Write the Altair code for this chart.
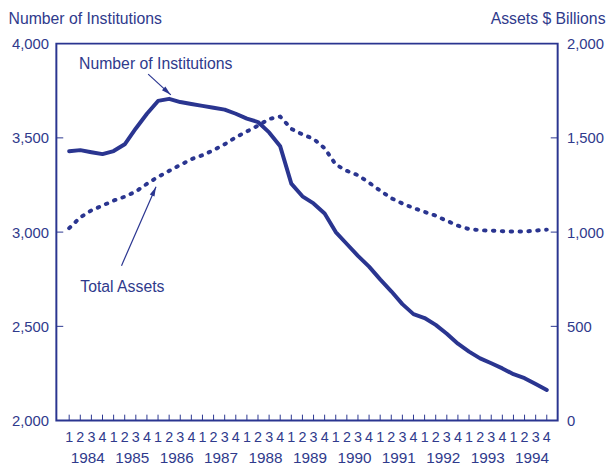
import altair as alt
import pandas as pd

# ---- data (quarterly, 1984 Q1 .. 1994 Q4) ----
years = ["1984", "1985", "1986", "1987", "1988", "1989", "1990", "1991", "1992", "1993", "1994"]
quarter_labels = ["1", "2", "3", "4"] * len(years)

institutions = [
    3429, 3435, 3424, 3414,
    3430, 3466, 3550, 3628,
    3696, 3707, 3690, 3680,
    3670, 3660, 3650, 3628,
    3602, 3584, 3529, 3455,
    3257, 3190, 3152, 3099,
    3000, 2937, 2874, 2817,
    2749, 2686, 2618, 2565,
    2544, 2508, 2461, 2408,
    2366, 2330, 2304, 2277,
    2246, 2225, 2194, 2162,
]

assets = [
    1021, 1078, 1115, 1141,
    1167, 1188, 1215, 1256,
    1293, 1325, 1356, 1387,
    1408, 1435, 1466, 1503,
    1534, 1565, 1600, 1613,
    1548, 1518, 1495, 1445,
    1358, 1325, 1302, 1262,
    1220, 1180, 1152, 1128,
    1107, 1087, 1060, 1034,
    1016, 1010, 1008, 1005,
    1003, 1003, 1008, 1013,
]

left_ticks = [2500, 3000, 3500]
right_ticks = [500, 1000, 1500]

# annotation texts and arrows (in data coordinates of the left axis)
ann_text = ["Number of Institutions", "Total Assets"]
ann_text_x = [0.89, 1.0]
ann_text_y = [3890, 2707]
arrow_x0 = [7.11, 4.71]
arrow_y0 = [3838, 2822]
arrow_x1 = [9.15, 7.82]
arrow_y1 = [3728, 3241]
head_x = [8.82, 7.64]
head_y = [3746, 3217]
head_angle = [132, 24]

n = len(institutions)
df = pd.DataFrame({
    "idx": list(range(n)),
    "q": quarter_labels,
    "inst": institutions,
    "assets": assets,
})
df_years = pd.DataFrame({"idx": [1.5 + 4 * i for i in range(len(years))], "year": years})
df_lt = pd.DataFrame({"v": left_ticks})
df_rt = pd.DataFrame({"v": right_ticks})
df_text = pd.DataFrame({"t": ann_text, "x": ann_text_x, "y": ann_text_y})
df_arrow = pd.DataFrame({"x0": arrow_x0, "y0": arrow_y0, "x1": arrow_x1, "y1": arrow_y1,
                         "hx": head_x, "hy": head_y, "ang": head_angle})

BLUE = "#2a3590"
TXT = "#2f3a8c"
FONT = "Liberation Sans"
W, H = 508, 382

xscale = alt.Scale(domain=[-1.155, 43.98], nice=False, zero=False)
yL = alt.Scale(domain=[2000, 4000], nice=False, zero=False)
yR = alt.Scale(domain=[0, 2000], nice=False, zero=False)

inst_line = alt.Chart(df).mark_line(
    color=BLUE, strokeWidth=4, strokeJoin="round", strokeCap="round"
).encode(
    x=alt.X("idx:Q", scale=xscale, axis=None),
    y=alt.Y("inst:Q", scale=yL, axis=alt.Axis(
        orient="left", values=[2000, 2500, 3000, 3500, 4000], format=",d",
        ticks=False, domain=False, grid=False,
        labelFontSize=15, labelColor=TXT, labelFont=FONT, labelPadding=8,
        title="Number of Institutions", titleAngle=0, titleX=-49, titleY=-25,
        titleAlign="left", titleBaseline="middle", titleFont=FONT,
        titleFontSize=16, titleFontWeight="normal", titleColor=TXT)),
)

assets_line = alt.Chart(df).mark_line(
    color=BLUE, strokeWidth=4, strokeDash=[1.5, 7.5], strokeCap="round", strokeJoin="round"
).encode(
    x=alt.X("idx:Q", scale=xscale, axis=None),
    y=alt.Y("assets:Q", scale=yR, axis=alt.Axis(
        orient="right", values=[0, 500, 1000, 1500, 2000], format=",d",
        ticks=False, domain=False, grid=False,
        labelFontSize=15, labelColor=TXT, labelFont=FONT, labelPadding=9,
        title="Assets $ Billions", titleAngle=0, titleX=48, titleY=-25,
        titleAlign="right", titleBaseline="middle", titleFont=FONT,
        titleFontSize=16, titleFontWeight="normal", titleColor=TXT)),
)

x_ticks = alt.Chart(df).mark_rule(color=BLUE, strokeWidth=1).encode(
    x=alt.X("idx:Q", scale=xscale, axis=None),
    y=alt.value(H), y2=alt.value(H - 6),
)

q_text = alt.Chart(df).mark_text(
    font=FONT, fontSize=14.5, color=TXT, baseline="middle", align="center"
).encode(
    x=alt.X("idx:Q", scale=xscale, axis=None),
    y=alt.value(H + 18),
    text="q:N",
)

y_text = alt.Chart(df_years).mark_text(
    font=FONT, fontSize=15.5, color=TXT, baseline="middle", align="center", dx=2
).encode(
    x=alt.X("idx:Q", scale=xscale, axis=None),
    y=alt.value(H + 38),
    text="year:N",
)

lt = alt.Chart(df_lt).mark_rule(color=BLUE, strokeWidth=1).encode(
    y=alt.Y("v:Q", scale=yL, axis=None),
    x=alt.value(0), x2=alt.value(7),
)

rt = alt.Chart(df_rt).mark_rule(color=BLUE, strokeWidth=1).encode(
    y=alt.Y("v:Q", scale=yR, axis=None),
    x=alt.value(W - 7), x2=alt.value(W),
)

ann = alt.Chart(df_text).mark_text(
    font=FONT, fontSize=16, color=TXT, align="left", baseline="middle"
).encode(
    x=alt.X("x:Q", scale=xscale, axis=None),
    y=alt.Y("y:Q", scale=yL, axis=None),
    text="t:N",
)

arrows = alt.Chart(df_arrow).mark_rule(color=BLUE, strokeWidth=1.2).encode(
    x=alt.X("x0:Q", scale=xscale, axis=None),
    x2="x1:Q",
    y=alt.Y("y0:Q", scale=yL, axis=None),
    y2="y1:Q",
)

heads = alt.Chart(df_arrow).mark_point(
    shape="M0,-1L0.55,1L-0.55,1Z", filled=True, color=BLUE, opacity=1, size=90
).encode(
    x=alt.X("hx:Q", scale=xscale, axis=None),
    y=alt.Y("hy:Q", scale=yL, axis=None),
    angle=alt.Angle("ang:Q", scale=None),
)

chart = alt.layer(
    x_ticks, lt, rt, inst_line, assets_line, q_text, y_text, ann, arrows, heads
).resolve_scale(y="independent").properties(
    width=W, height=H,
    padding={"left": 49, "top": 33, "right": 50, "bottom": 49},
    autosize=alt.AutoSizeParams(type="none"),
    background="white",
).configure_view(stroke=BLUE, strokeWidth=2)

chart.save("out.html", embed_options={"renderer": "svg", "actions": False})
